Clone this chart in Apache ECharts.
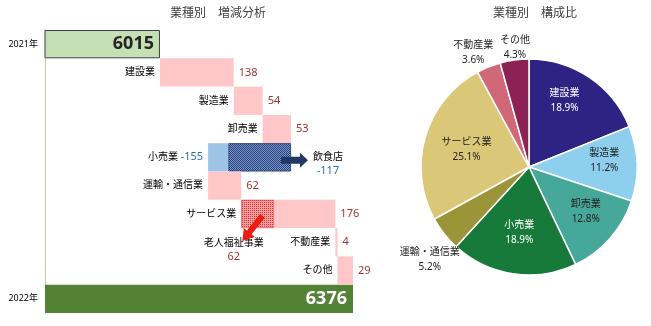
<!DOCTYPE html>
<html><head><meta charset="utf-8">
<script src="https://cdn.jsdelivr.net/npm/echarts@6/dist/echarts.min.js"></script>
<style>html,body{margin:0;padding:0;background:#fff}#c{width:651px;height:326px}</style>
</head><body><div id="c"></div>
<script>
// ---- data ----
const categories = ['2021年','建設業','製造業','卸売業','小売業','運輸・通信業','サービス業','不動産業','その他','2022年'];
const startTotal = 6015;
const endTotal = 6376;
const changes = [138, 54, 53, -155, 62, 176, 4, 29];
const breakdownCategories = ['小売業','サービス業'];
const breakdownNames = ['飲食店','老人福祉事業'];
const breakdownValues = [-117, 62];
const axisMin = 5800;

const pieNames = ['建設業','製造業','卸売業','小売業','運輸・通信業','サービス業','不動産業','その他'];
const pieShares = [18.9, 11.2, 12.8, 18.9, 5.2, 25.1, 3.6, 4.3];

// ---- styles ----
const FONT = '"Noto Sans", "Noto Sans CJK JP", sans-serif';
const pieColors = ['#2e2383','#8ecfee','#45a898','#177a3a','#9c9438','#dbc778','#d06878','#8c2155'];
const pieLabelColors = ['#fff','#222','#222','#fff','#222','#222','#222','#222'];
const pieLabelRadius = [0.70,0.70,0.67,0.61,1.26,0.60,1.18,1.11];
const pieLabelAngleShift = [-6,-3,-3,0,-5,-1,-4,1];
const pieOutside = [false,false,false,false,true,false,true,true];
const posColor = '#963634', negColor = '#2e6fa8';

function pattern(light, dark, darkCount) {
  const cv = document.createElement('canvas');
  cv.width = 2; cv.height = 2;
  const g = cv.getContext('2d');
  g.fillStyle = light; g.fillRect(0,0,2,2);
  g.fillStyle = dark; g.fillRect(0,0,1,1);
  if (darkCount > 1) g.fillRect(1,1,1,1);
  return {image: cv, repeat: 'repeat'};
}
const blueHatch = pattern('#7d96c8', '#25447f', 2);
const redHatch = pattern('#f59c9c', '#dc3434', 1);

// ---- waterfall computation ----
const n = categories.length;
const base = Array(n).fill('-'), seg1 = Array(n).fill('-'), seg2 = Array(n).fill('-'), totals = Array(n).fill('-');
const prevLevel = Array(n).fill(null);
totals[0] = {value: startTotal, itemStyle: {color: '#c5e0b4', borderColor: '#404040', borderWidth: 1},
  label: {color: '#262626'}};
totals[n-1] = {value: endTotal, itemStyle: {color: '#548235'}, label: {color: '#fff'}};
let level = startTotal;
changes.forEach((c, i) => {
  const row = i + 1;
  const bi = breakdownCategories.indexOf(categories[row]);
  const next = level + c;
  prevLevel[row] = level;
  base[row] = Math.min(level, next);
  if (bi < 0) {
    seg2[row] = {value: Math.abs(c), itemStyle: {color: '#ffc7c7'}};
  } else {
    const b = Math.abs(breakdownValues[bi]);
    const rest = Math.abs(c) - b;
    if (c < 0) {
      seg1[row] = {value: rest, itemStyle: {color: '#9dc3e6'}};
      seg2[row] = {value: b, itemStyle: {color: blueHatch, borderColor: '#1f3864', borderWidth: 0.8},
        label: {position: 'right', distance: 22, offset: [0, 7],
          formatter: '{n|' + breakdownNames[bi] + '}\n{v|' + breakdownValues[bi] + '}'}};
    } else {
      seg1[row] = {value: b, itemStyle: {color: redHatch, borderColor: '#e04040', borderWidth: 0.6},
        label: {show: true, position: 'bottom', distance: 8, offset: [-24, 0],
          formatter: '{n|' + breakdownNames[bi] + '}\n{p|' + breakdownValues[bi] + '}'}};
      seg2[row] = {value: rest, itemStyle: {color: '#ffc7c7'}};
    }
  }
  level = next;
});

const richCommon = {
  n: {fontSize: 10, color: '#000', fontFamily: FONT, align: 'center', lineHeight: 14},
  v: {fontSize: 11, color: negColor, fontFamily: FONT, align: 'center', lineHeight: 14},
  p: {fontSize: 11, color: posColor, fontFamily: FONT, align: 'center', lineHeight: 14},
  neg: {fontSize: 11, color: negColor, fontFamily: FONT}
};

// pie label positions
const pieCX = 529, pieCY = 167, pieR = 108;
const pieTotal = pieShares.reduce((a, b) => a + b, 0);
const pieCum = [];
pieShares.reduce((acc, v, i) => { pieCum[i] = acc; return acc + v; }, 0);

const chart = echarts.init(document.getElementById('c'));
const option = {
  animation: false,
  textStyle: {fontFamily: FONT},
  title: [
    {text: '業種別　増減分析', left: 213, top: 3, textAlign: 'center',
      textStyle: {fontSize: 12, fontWeight: 'normal', color: '#404040', fontFamily: FONT}},
    {text: '業種別　構成比', left: 530, top: 3, textAlign: 'center',
      textStyle: {fontSize: 12, fontWeight: 'normal', color: '#404040', fontFamily: FONT}}
  ],
  grid: {left: 45, top: 30, width: 308, height: 283, containLabel: false},
  xAxis: {type: 'value', min: axisMin, max: endTotal, show: false},
  yAxis: {type: 'category', data: categories, inverse: true,
    axisLine: {lineStyle: {color: '#c5cfb0', width: 1}}, axisTick: {show: false},
    axisLabel: {fontSize: 9, color: '#000', margin: 7, fontFamily: FONT,
      formatter: (v, i) => (i === 0 || i === n - 1) ? v : ''}},
  series: [
    {name: 'base', type: 'bar', stack: 'w', barCategoryGap: '0%', data: base,
      itemStyle: {color: 'rgba(0,0,0,0)'}, silent: true,
      label: {show: true, position: 'insideRight', distance: 5, fontSize: 10, color: '#000', fontFamily: FONT,
        rich: richCommon,
        formatter: p => {
          const c = changes[p.dataIndex - 1];
          return c < 0 ? p.name + ' {neg|' + c + '}' : p.name;
        }}},
    {name: 'total', type: 'bar', stack: 'w', data: totals,
      label: {show: true, position: 'insideRight', distance: 6, fontSize: 18, fontWeight: 'bold',
        fontFamily: '"Open Sans", sans-serif'}},
    {name: 'seg1', type: 'bar', stack: 'w', data: seg1,
      label: {show: false, rich: richCommon, lineHeight: 14}},
    {name: 'seg2', type: 'bar', stack: 'w', data: seg2,
      label: {show: true, position: 'right', distance: 5, fontSize: 11, color: posColor, fontFamily: FONT,
        rich: richCommon,
        formatter: p => String(changes[p.dataIndex - 1])}},
    {name: '構成比', type: 'pie', center: [pieCX, pieCY], radius: pieR, startAngle: 90, clockwise: true,
      avoidLabelOverlap: false, silent: true,
      itemStyle: {borderColor: '#fff', borderWidth: 1.5},
      labelLine: {show: false},
      label: {fontSize: 10, lineHeight: 15, fontFamily: FONT,
        formatter: p => p.name + '\n' + p.value.toFixed(1) + '%'},
      labelLayout: p => {
        const i = p.dataIndex;
        const mid = ((pieCum[i] + pieShares[i] / 2) / pieTotal * 360 + pieLabelAngleShift[i]) * Math.PI / 180;
        const k = pieLabelRadius[i] * pieR;
        return {x: pieCX + k * Math.sin(mid), y: pieCY - k * Math.cos(mid), align: 'center', verticalAlign: 'middle', hideOverlap: false};
      },
      data: pieNames.map((nm, i) => ({name: nm, value: pieShares[i],
        itemStyle: {color: pieColors[i]},
        label: {color: pieLabelColors[i], position: pieOutside[i] ? 'outside' : 'inside'}}))}
  ]
};
chart.setOption(option);

// ---- annotation arrows anchored to data ----
function arrowPoints(x1, y1, x2, y2, shaftW, headW, headL) {
  const dx = x2 - x1, dy = y2 - y1, L = Math.hypot(dx, dy), ux = dx / L, uy = dy / L, px = -uy, py = ux;
  const bx = x2 - ux * headL, by = y2 - uy * headL;
  return [[x1 + px * shaftW / 2, y1 + py * shaftW / 2], [bx + px * shaftW / 2, by + py * shaftW / 2],
    [bx + px * headW / 2, by + py * headW / 2], [x2, y2], [bx - px * headW / 2, by - py * headW / 2],
    [bx - px * shaftW / 2, by - py * shaftW / 2], [x1 - px * shaftW / 2, y1 - py * shaftW / 2]];
}
const graphics = [];
breakdownCategories.forEach((cat, bi) => {
  const row = categories.indexOf(cat);
  const edge = prevLevel[row] + breakdownValues[bi];
  if (breakdownValues[bi] < 0) {
    const pt = chart.convertToPixel({gridIndex: 0}, [prevLevel[row], row]);
    graphics.push({type: 'polygon', shape: {points: arrowPoints(pt[0] - 10, pt[1] + 3, pt[0] + 17, pt[1] + 3, 7, 15, 8)},
      style: {fill: '#1f3864'}, z: 10});
  } else {
    const pt = chart.convertToPixel({gridIndex: 0}, [edge, row]);
    graphics.push({type: 'polygon', shape: {points: arrowPoints(pt[0] - 12, pt[1] + 2, pt[0] - 32, pt[1] + 27, 6, 14, 11)},
      style: {fill: '#ee1c12'}, z: 10});
  }
});
chart.setOption({graphic: graphics});
</script>
</body></html>
